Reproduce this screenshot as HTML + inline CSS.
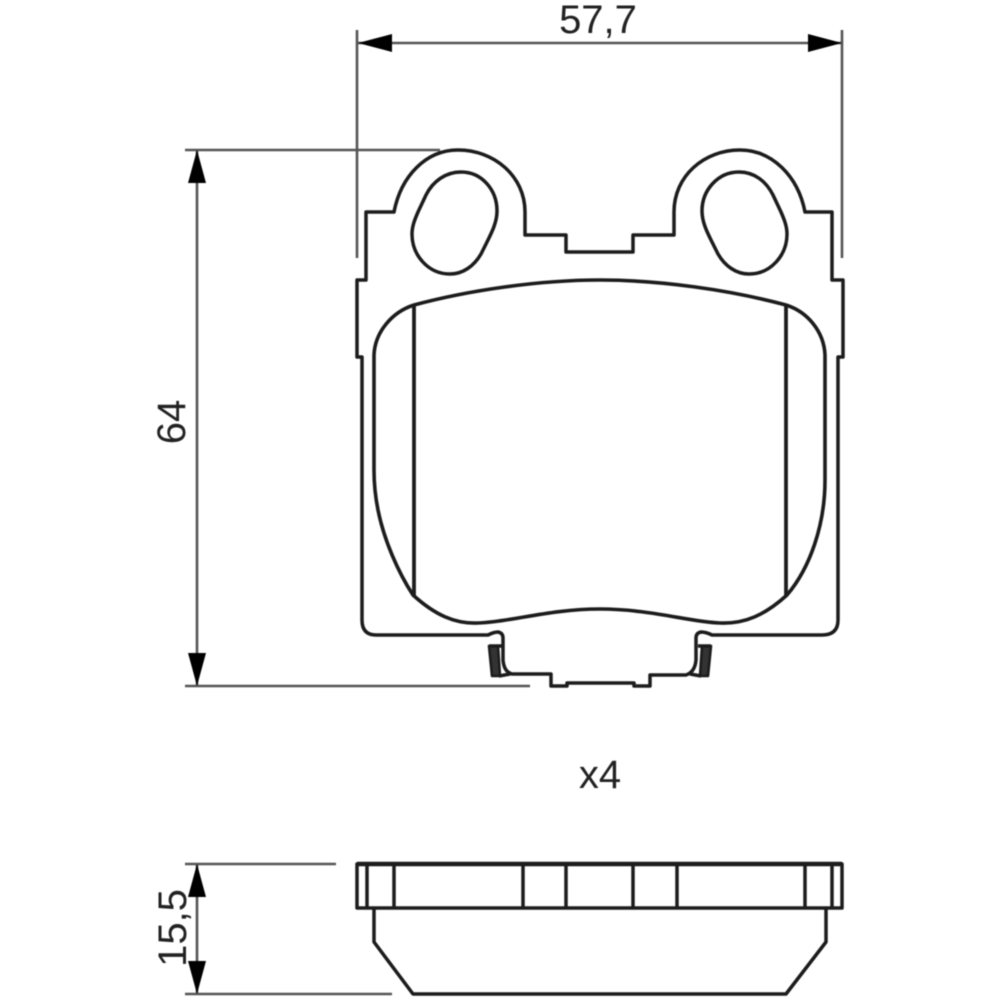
<!DOCTYPE html>
<html><head><meta charset="utf-8"><style>
html,body{margin:0;padding:0;background:#fff}
svg{display:block;filter:blur(.6px)}
text{font-family:"Liberation Sans",sans-serif;fill:#222;font-size:40px}
</style></head><body>
<svg width="1000" height="1000" viewBox="0 0 1000 1000" xmlns="http://www.w3.org/2000/svg">
<g fill="none" stroke="#555" stroke-width="2.6">
<path d="M357 30V258M842 30V258M358 43H842"/>
<path d="M185 150H440M197 150V686M185 686H530"/>
<path d="M185 864H336M197 864V994M185 994H392"/>
</g>
<g fill="#000">
<path d="M358 43L392 34V52Z"/><path d="M842 43L808 34V52Z"/>
<path d="M197 150L188 183H206Z"/><path d="M197 686L188 653H206Z"/>
<path d="M197 864L188 897H206Z"/><path d="M197 994L188 961H206Z"/>
</g>
<g fill="none" stroke="#1c1c1c" stroke-width="3.5" stroke-linejoin="round">
<path d="M362 600V620Q362 635 376 635H488Q494 632 498 632Q503 633 503 638V660Q504 672 512 674H551V686H567V683H634V686H650V675H686Q695 672 696 660V638Q696 633 701 632Q706 632 712 635H822Q838 635 838 620V365L838 357H843V280H832V212H805C798 176 772 150 740 150C704 150 674 176 674 212V235H633V252H566V235H525V212C525 176 494 150 458 150C426 150 401 176 394 212H366V280H357V357H362Z"/>
<path d="M374 355C375 332 392 312 414 305C470 290 540 280 600 280C660 280 730 290 786 305C808 312 824 332 825 355V480C825 525 810 568 787 595C765 615 745 624 720 623C690 622 650 609 600 609C550 609 510 622 478 623C455 624 435 615 413 595C398 572 384 540 378 510C375 495 374 485 374 470Z" stroke-width="3.6"/>
<path d="M414 305V595M786 305V595" stroke-width="3.8"/>
<path d="M461 172C482 172 497 190 497 211C497 222 492 232 487 242L481 254C474 266 463 274 450 274C428 274 412 255 412 234C412 226 415 219 418 212L426 195C433 181 446 172 461 172Z"/>
<path d="M739 172C718 172 702 190 702 211C702 222 707 232 712 242L718 254C725 266 736 274 749 274C771 274 787 255 787 234C787 226 784 219 781 212L773 195C766 181 754 172 739 172Z"/>
<path d="M489 646L498 646L500 676L492 676Z" stroke-width="2.6" fill="#333"/>
<path d="M489 646H502M499 676L510 674"/>
<path d="M711 646L702 646L700 676L708 676Z" stroke-width="2.6" fill="#333"/>
<path d="M711 646H698M701 676L690 674"/>
<path d="M357 864H842V908H357Z" stroke-width="3.5"/>
<path d="M357 864H842" stroke-width="4.5"/>
<path d="M367 864V908M394 864V908M523 864V908M566 864V908M633 864V908M677 864V908M805 864V908M832 864V908"/>
<path d="M374 908V942L413 994H786L826 942V908"/>
</g>
<text x="598" y="33" text-anchor="middle">57,7</text>
<text x="600" y="788" text-anchor="middle">x4</text>
<text transform="translate(185 422) rotate(-90)" text-anchor="middle">64</text>
<text transform="translate(186 928) rotate(-90)" text-anchor="middle">15,5</text>
</svg>
</body></html>
